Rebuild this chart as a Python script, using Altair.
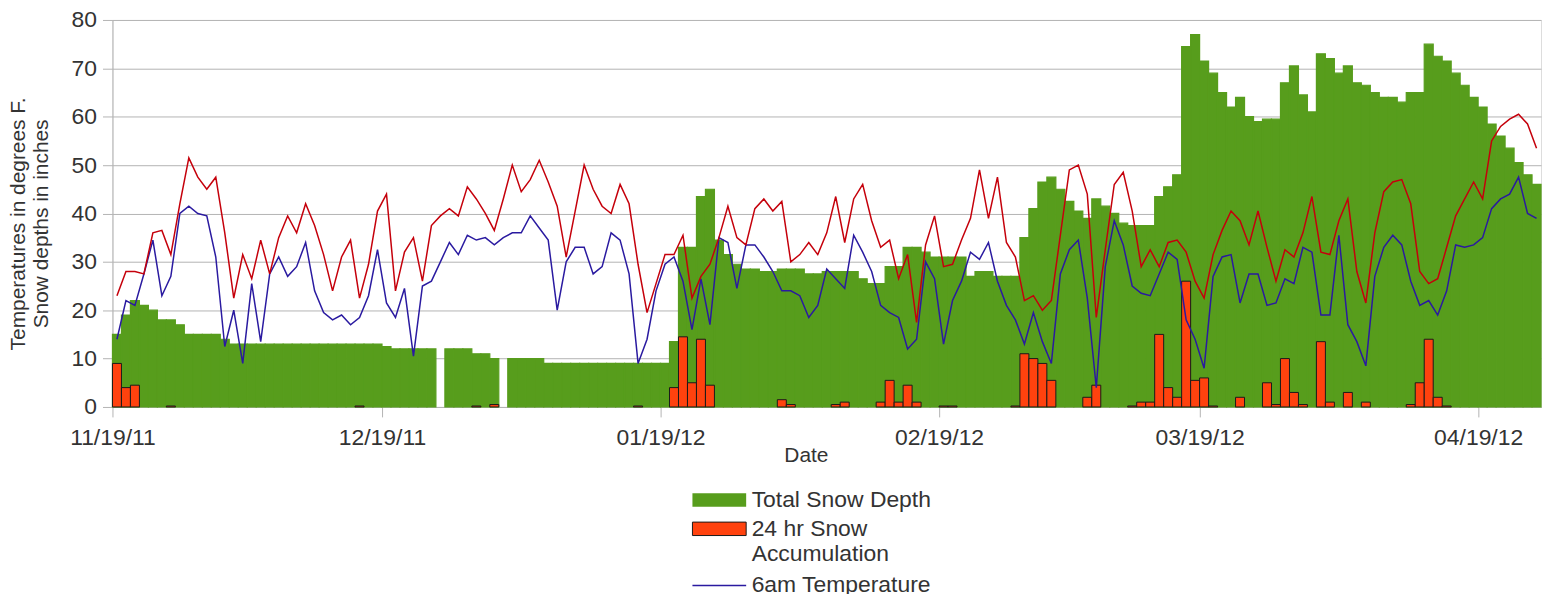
import altair as alt
import pandas as pd

# ---------------- data ----------------
start_date = "2011-11-19"
tick_days = [0, 30, 61, 92, 121, 152]
tick_labels = ["11/19/11", "12/19/11", "01/19/12", "02/19/12", "03/19/12", "04/19/12"]

series_names = ["Total Snow Depth", "24 hr Snow Accumulation", "6am Temperature", "High Temperature"]
series_colors = ["#579d1c", "#ff420e", "#2a1aa0", "#c5000b"]

snow_depth = [
    15, 19, 22, 21, 20, 18, 18, 17, 15, 15,
    15, 15, 14, 13, 13, 13, 13, 13, 13, 13,
    13, 13, 13, 13, 13, 13, 13, 13, 13, 13,
    12.5, 12, 12, 12, 12, 12, None, 12, 12, 12,
    11, 11, 10, None, 10, 10, 10, 10, 9, 9,
    9, 9, 9, 9, 9, 9, 9, 9, 9, 9,
    9, 9, 13.5, 33, 33, 43.5, 45, 34.5, 31.5, 29.5,
    28.5, 28.5, 28, 28, 28.5, 28.5, 28.5, 27.5, 27.5, 28,
    28, 28, 28, 26.5, 25.5, 25.5, 29, 29, 33, 33,
    32, 31, 31, 31, 31, 27, 28, 28, 27, 27,
    27, 35, 41, 46.5, 47.5, 45, 42.5, 40.5, 39, 43,
    41.5, 40, 38, 37.5, 37.5, 37.5, 43.5, 45.5, 48, 74.5,
    77, 71.5, 69, 65, 62, 64, 60, 59, 59.5, 59.5,
    67, 70.5, 64.5, 61, 73, 72, 69, 70.5, 67, 66.5,
    65, 64, 64, 63, 65, 65, 75, 72.5, 71.5, 69,
    66.5, 64, 62, 58.5, 56, 53.5, 50.5, 48, 46,
]

snow_24hr = [
    9, 4, 4.5, 0, 0, 0, 0.2, 0, 0, 0,
    0, 0, 0, 0, 0, 0, 0, 0, 0, 0,
    0, 0, 0, 0, 0, 0, 0, 0.2, 0, 0,
    0, 0, 0, 0, 0, 0, 0, 0, 0, 0,
    0.2, 0, 0.5, 0, 0, 0, 0, 0, 0, 0,
    0, 0, 0, 0, 0, 0, 0, 0, 0.2, 0,
    0, 0, 4, 14.5, 5, 14, 4.5, 0, 0, 0,
    0, 0, 0, 0, 1.5, 0.5, 0, 0, 0, 0,
    0.5, 1, 0, 0, 0, 1, 5.5, 1, 4.5, 1,
    0, 0, 0.2, 0.2, 0, 0, 0, 0, 0, 0,
    0.2, 11, 10, 9, 5.5, 0, 0, 0, 2, 4.5,
    0, 0, 0, 0.2, 1, 1, 15, 4, 2, 26,
    5.5, 6, 0.2, 0, 0, 2, 0, 0, 5, 0.5,
    10, 3, 0.5, 0, 13.5, 1, 0, 3, 0, 1,
    0, 0, 0, 0, 0.5, 5, 14, 2, 0.2, 0,
    0, 0, 0, 0, 0, 0, 0, 0, 0,
]

temp_6am = [
    14, 22, 21, 27.5, 34.5, 23, 27, 40, 41.5, 40,
    39.5, 31, 12.5, 20, 9, 25.5, 13.5, 27.5, 31, 27,
    29, 34, 24, 19.5, 18, 19, 17, 18.5, 23, 32.5,
    21.5, 18.5, 24.5, 10.5, 25, 26, 30, 34, 31.5, 35.5,
    34.5, 35, 33.5, 35, 36, 36, 39.5, 37, 34.5, 20,
    30, 33, 33, 27.5, 29, 36, 34.5, 27.5, 9, 14,
    24, 29.5, 31, 26, 16, 26.5, 17, 35, 34, 24.5,
    33.5, 33.5, 31, 28, 24, 24, 23, 18.5, 21, 28.5,
    26.5, 24.5, 35.5, 32, 28, 21, 19.5, 18.5, 12, 14,
    30, 26.5, 13, 22, 26, 32, 30.5, 34, 26, 21,
    18, 13, 19.5, 13.5, 9, 27.5, 32.5, 34.5, 22.5, 4,
    29, 38.5, 33.5, 25, 23.5, 23, 27.5, 32, 30.5, 18,
    14, 8, 27, 31, 31.5, 21.5, 27.5, 27.5, 21, 21.5,
    26.5, 25.5, 33, 32, 19, 19, 35.5, 17, 13.5, 8.5,
    27, 33, 35.5, 33.5, 26, 21, 22, 19, 24, 33.5,
    33, 33.5, 35, 41, 43, 44, 47.5, 40, 39,
]

temp_high = [
    23, 28, 28, 27.5, 36, 36.5, 31.5, 42, 51.5, 47.5,
    45, 47.5, 36, 22.5, 31.5, 26.5, 34.5, 27.5, 35, 39.5,
    36, 42, 37.5, 31.5, 24, 31, 34.5, 22.5, 29.5, 40.5,
    44, 24, 32, 35, 26, 37.5, 39.5, 41, 39.5, 45.5,
    43, 40, 36.5, 43, 50, 44.5, 47, 51, 46.5, 41.5,
    31, 40.5, 50, 45, 41.5, 40, 46, 42, 29.5, 19.5,
    25.5, 31.5, 31.5, 35.5, 22.5, 27, 29.5, 35, 41.5, 35,
    33.5, 41, 43, 40.5, 42.5, 30, 31.5, 34, 31.5, 36,
    43.5, 34, 43, 46, 38.5, 33, 34.5, 26.5, 31.5, 17.5,
    33.5, 39.5, 29, 29.5, 34.5, 39, 49, 39, 47.5, 34,
    31, 22, 23, 20, 22, 35.5, 49, 50, 44, 18.5,
    32.5, 46, 48.5, 40.5, 29, 32.5, 29, 34, 34.5, 32,
    26, 22.5, 31.5, 36.5, 40.5, 38.5, 33.5, 40.5, 33, 26,
    32.5, 31, 36, 43.5, 32, 31.5, 38.5, 43, 28, 21.5,
    36, 44.5, 46.5, 47, 42, 28, 25.5, 26.5, 33, 39.5,
    43, 46.5, 43, 55, 58, 59.5, 60.5, 58.5, 53.5,
]

n_days = len(snow_depth)
assert len(snow_24hr) == n_days and len(temp_6am) == n_days and len(temp_high) == n_days, (
    len(snow_depth), len(snow_24hr), len(temp_6am), len(temp_high))

dates = pd.date_range(start_date, periods=n_days, freq="D")
days = list(range(n_days))

# ---------------- tables ----------------
bars_depth = pd.DataFrame({"day": days, "value": snow_depth}).dropna()
bars_depth["series"] = series_names[0]

bars_acc = pd.DataFrame({"day": days, "value": snow_24hr})
bars_acc = bars_acc[bars_acc["value"] > 0].copy()
bars_acc["series"] = series_names[1]

for df in (bars_depth, bars_acc):
    df["day_end"] = df["day"] + 1

lines = pd.concat([
    pd.DataFrame({"day": days, "value": temp_6am, "series": series_names[2]}),
    pd.DataFrame({"day": days, "value": temp_high, "series": series_names[3]}),
])
lines["mid"] = lines["day"] + 0.5

# ---------------- styling ----------------
FONT = "Liberation Sans"
GRID = "#b3b3b3"
TXT = "#333333"
W, H = 1436, 389

label_expr = "[" + ",".join("'%s'" % t for t in tick_labels) + "][indexof([" + \
    ",".join(str(d) for d in tick_days) + "], datum.value)]"

x_scale = alt.Scale(domain=[0, n_days], nice=False, zero=False, padding=0)
y_scale = alt.Scale(domain=[0, 80], nice=False, padding=0)

x_axis = alt.Axis(
    values=tick_days, labelExpr=label_expr, grid=False,
    domainColor=GRID, tickColor=GRID, tickSize=10,
    labelFont=FONT, labelFontSize=23, labelColor=TXT, labelPadding=10,
    labelOverlap=False, labelFlush=False,
    title="Date", titleFont=FONT, titleFontSize=21, titleColor=TXT,
    titleFontWeight="normal", titleX=697, titleY=54.7,
    titleBaseline="alphabetic", titleAlign="center",
)
y_axis = alt.Axis(
    values=[0, 10, 20, 30, 40, 50, 60, 70, 80], grid=True, gridColor=GRID,
    domainColor=GRID, tickColor=GRID, tickSize=10,
    labelFont=FONT, labelFontSize=23, labelColor=TXT, labelPadding=6,
    title=["Temperatures in degrees F.", "Snow depths in inches"],
    titleFont=FONT, titleFontSize=21, titleColor=TXT, titleFontWeight="normal",
    titleAngle=270, titleX=-94, titleY=204.5, titleBaseline="middle",
    titleAlign="center", titleLineHeight=23,
)

common_legend = dict(
    orient="none", title=None, direction="vertical", padding=0,
    labelFont=FONT, labelFontSize=23, labelColor=TXT, labelLimit=400,
    symbolSize=100, symbolOffset=21.5, labelOffset=21, rowPadding=6,
)

depth_legend = alt.Legend(
    legendX=577, legendY=471,
    symbolType="M-5.4,-1.35H5.4V1.35H-5.4Z", symbolStrokeWidth=0,
    **common_legend,
)
acc_legend = alt.Legend(
    legendX=577, legendY=500,
    symbolType="M-5.4,-1.35H5.4V1.35H-5.4Z",
    symbolStrokeColor="#1a1a1a", symbolStrokeWidth=1,
    labelExpr="['24 hr Snow', 'Accumulation']",
    **common_legend,
)
line_legend = alt.Legend(
    legendX=577, legendY=557,
    symbolType="M-5.4,0H5.4", symbolStrokeWidth=1.5,
    **common_legend,
)

depth_layer = alt.Chart(bars_depth).mark_bar(
    stroke=series_colors[0], strokeWidth=1.2
).encode(
    x=alt.X("day:Q", scale=x_scale, axis=x_axis),
    x2="day_end:Q",
    y=alt.Y("value:Q", scale=y_scale, axis=y_axis),
    y2=alt.datum(0),
    fill=alt.Fill("series:N", scale=alt.Scale(domain=series_names[:1], range=series_colors[:1]),
                  legend=depth_legend),
)

acc_layer = alt.Chart(bars_acc).mark_bar(
    stroke="#1a1a1a", strokeWidth=1
).encode(
    x=alt.X("day:Q", scale=x_scale),
    x2="day_end:Q",
    y=alt.Y("value:Q", scale=y_scale),
    y2=alt.datum(0),
    color=alt.Color("series:N", scale=alt.Scale(domain=series_names[1:2], range=series_colors[1:2]),
                    legend=acc_legend),
)

line_layer = alt.Chart(lines).mark_line(strokeWidth=1.5).encode(
    x=alt.X("mid:Q", scale=x_scale),
    y=alt.Y("value:Q", scale=y_scale),
    stroke=alt.Stroke("series:N", scale=alt.Scale(domain=series_names[2:], range=series_colors[2:]),
                      legend=line_legend),
)

chart = alt.layer(depth_layer, acc_layer, line_layer).properties(
    width=W, height=H,
    autosize=alt.AutoSizeParams(type="none"),
    padding={"left": 105, "top": 10.5, "right": 5, "bottom": 190},
).configure_view(
    stroke=GRID, strokeWidth=1
).configure(background="white")

chart.save("out.html", embed_options={"renderer": "svg", "actions": False})
